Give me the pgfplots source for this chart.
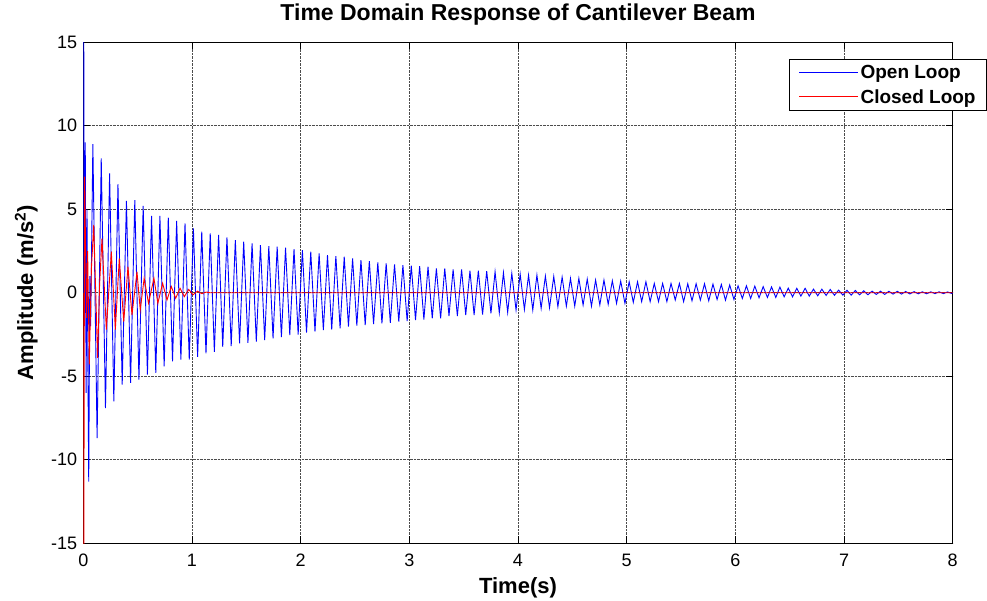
\documentclass[border=0pt]{standalone}
\usepackage{fontspec}
\setmainfont{Liberation Sans}
\usepackage{pgfplots}
\pgfplotsset{compat=1.18}
\definecolor{mblue}{RGB}{0,0,255}
\definecolor{mred}{RGB}{255,0,0}
\pgfplotstableread{
t y
0 0
0.004 16
0.011 -2
0.018 9
0.026 -6
0.034 5
0.042 -4
0.050 -11.3
0.060 1
0.068 -2
0.088 8.9
0.127 -8.7
0.165 8.05
0.204 -6.9
0.242 7.15
0.281 -6.5
0.319 6.5
0.358 -5.5
0.397 5.5
0.435 -5.4
0.474 5.55
0.512 -5.2
0.551 5.2
0.590 -4.9
0.628 4.6
0.667 -4.8
0.705 4.6
0.744 -4.4
0.782 4.5
0.821 -4.1
0.859 4.3
0.898 -4.0
0.936 4.16
0.975 -4.0
1.013 3.86
1.052 -3.83
1.090 3.66
1.129 -3.63
1.168 3.56
1.206 -3.53
1.245 3.46
1.283 -3.23
1.322 3.32
1.361 -3.2
1.399 3.16
1.438 -3.03
1.476 3.06
1.515 -3.0
1.553 2.96
1.592 -2.93
1.630 2.86
1.669 -2.83
1.707 2.8
1.746 -2.73
1.784 2.76
1.823 -2.66
1.861 2.7
1.900 -2.53
1.939 2.62
1.977 -2.5
2.016 2.56
2.054 -2.39
2.093 2.46
2.132 -2.33
2.170 2.36
2.209 -2.23
2.247 2.26
2.286 -2.2
2.324 2.2
2.363 -2.13
2.401 2.16
2.440 -2.03
2.478 2.06
2.517 -1.97
2.555 1.96
2.594 -1.93
2.632 1.9
2.671 -1.87
2.710 1.82
2.748 -1.83
2.787 1.76
2.825 -1.8
2.864 1.7
2.903 -1.73
2.941 1.66
2.980 -1.7
3.018 1.63
3.057 -1.63
3.095 1.6
3.134 -1.6
3.172 1.56
3.211 -1.53
3.249 1.46
3.288 -1.53
3.326 1.46
3.365 -1.39
3.403 1.4
3.442 -1.39
3.481 1.4
3.519 -1.33
3.558 1.32
3.596 -1.33
3.635 1.32
3.674 -1.3
3.712 1.3
3.751 -1.23
3.789 1.26
3.828 -1.2
3.866 1.2
3.905 -1.17
3.943 1.16
3.982 -1.03
4.020 1.12
4.059 -1.0
4.097 1.06
4.136 -1.03
4.174 1.06
4.213 -0.93
4.252 1.0
4.290 -0.9
4.329 0.98
4.367 -0.83
4.406 0.94
4.445 -0.8
4.483 0.86
4.522 -0.8
4.560 0.86
4.599 -0.73
4.637 0.82
4.676 -0.8
4.714 0.76
4.753 -0.73
4.791 0.76
4.830 -0.69
4.868 0.72
4.907 -0.63
4.945 0.7
4.984 -0.63
5.023 0.66
5.061 -0.57
5.100 0.66
5.138 -0.53
5.177 0.66
5.216 -0.53
5.254 0.56
5.293 -0.53
5.331 0.56
5.370 -0.53
5.408 0.56
5.447 -0.43
5.485 0.56
5.524 -0.53
5.562 0.54
5.601 -0.48
5.639 0.54
5.678 -0.44
5.716 0.54
5.755 -0.48
5.794 0.52
5.832 -0.4
5.871 0.5
5.909 -0.44
5.948 0.47
5.987 -0.4
6.025 0.42
6.064 -0.34
6.102 0.42
6.141 -0.34
6.179 0.4
6.218 -0.3
6.256 0.37
6.295 -0.28
6.333 0.35
6.372 -0.28
6.410 0.34
6.449 -0.24
6.487 0.28
6.526 -0.24
6.565 0.27
6.603 -0.2
6.642 0.27
6.680 -0.2
6.719 0.22
6.758 -0.18
6.796 0.22
6.835 -0.16
6.873 0.2
6.912 -0.15
6.950 0.16
6.989 -0.14
7.027 0.15
7.066 -0.14
7.104 0.14
7.143 -0.12
7.181 0.12
7.220 -0.12
7.258 0.1
7.297 -0.1
7.336 0.1
7.374 -0.1
7.413 0.09
7.451 -0.08
7.490 0.09
7.529 -0.08
7.567 0.08
7.606 -0.07
7.644 0.07
7.683 -0.06
7.721 0.06
7.760 -0.06
7.798 0.06
7.837 -0.05
7.875 0.06
7.914 -0.05
7.952 0.05
7.991 -0.04
8.0 0
}\openloop
\pgfplotstableread{
t y
0 0
0.002 -25
0.012 6.95
0.030 -1.5
0.040 2.5
0.055 -4.3
0.075 1.5
0.096 4.06
0.132 -3.9
0.150 0.5
0.172 3.26
0.212 -2.2
0.258 2.46
0.295 -2.2
0.331 2.06
0.372 -1.73
0.411 1.56
0.448 -1.33
0.494 1.26
0.524 -1.03
0.560 0.87
0.600 -0.63
0.650 0.87
0.686 -0.63
0.730 0.57
0.770 -0.43
0.810 0.37
0.850 -0.33
0.890 0.27
0.930 -0.23
0.970 0.2
1.010 -0.12
1.050 0.1
1.090 -0.05
1.130 0.04
1.170 0
8.0 0
}\closedloop
\begin{document}
\begin{tikzpicture}
\path[use as bounding box] (-83.3pt,-57.7pt) rectangle (903.7pt,543.3pt);
\begin{axis}[
  name=ax,
  scale only axis,
  width=869.4pt, height=501pt,
  xmin=0, xmax=8, ymin=-15, ymax=15,
  xtick={0,1,2,3,4,5,6,7,8},
  ytick={-15,-10,-5,0,5,10,15},
  xticklabels={0,1,2,3,4,5,6,7,8},
  yticklabels={-15,-10,-5,0,5,10,15},
  tick align=inside,
  xtick pos=both, ytick pos=both,
  major tick length=7pt,
  tick style={black, line width=0.9pt},
  axis line style={black, line width=1.1pt},
  grid=major,
  grid style={densely dotted, black!70, line width=0.8pt},
  ticklabel style={font=\fontsize{18}{20}\selectfont},
  xticklabel style={anchor=base, yshift=-23pt},
  yticklabel style={anchor=east, inner sep=0pt, xshift=-6pt},
  title={\bfseries Time Domain Response of Cantilever Beam},
  title style={font=\fontsize{23}{27}\selectfont, at={(axis description cs:0.5,1)}, anchor=base, yshift=15.5pt},
  xlabel={\bfseries Time(s)},
  xlabel style={font=\fontsize{22}{26}\selectfont, at={(axis description cs:0.5,0)}, anchor=base, yshift=-50pt},
  ylabel={\bfseries Amplitude (m/s\textsuperscript{2})},
  ylabel style={font=\fontsize{22}{26}\selectfont, at={(axis description cs:0,0.5)}, anchor=center, rotate=0, yshift=57pt},
  legend style={at={(axis description cs:0.8117,0.9667)}, anchor=north west,
    draw=black, line width=1.1pt, fill=white,
    font=\fontsize{19}{22}\selectfont\bfseries,
    inner xsep=9pt, inner ysep=4pt, row sep=5pt,
    cells={anchor=west}},
  legend image code/.code={\draw[#1, line width=1pt] (0pt,0pt) -- (59pt,0pt);},
]
\addplot[draw=mblue, line width=0.9pt] table {\openloop};
\addlegendentry{Open Loop}
\addplot[draw=mred, line width=0.9pt] table {\closedloop};
\addlegendentry{Closed Loop}
\end{axis}
\end{tikzpicture}
\end{document}
